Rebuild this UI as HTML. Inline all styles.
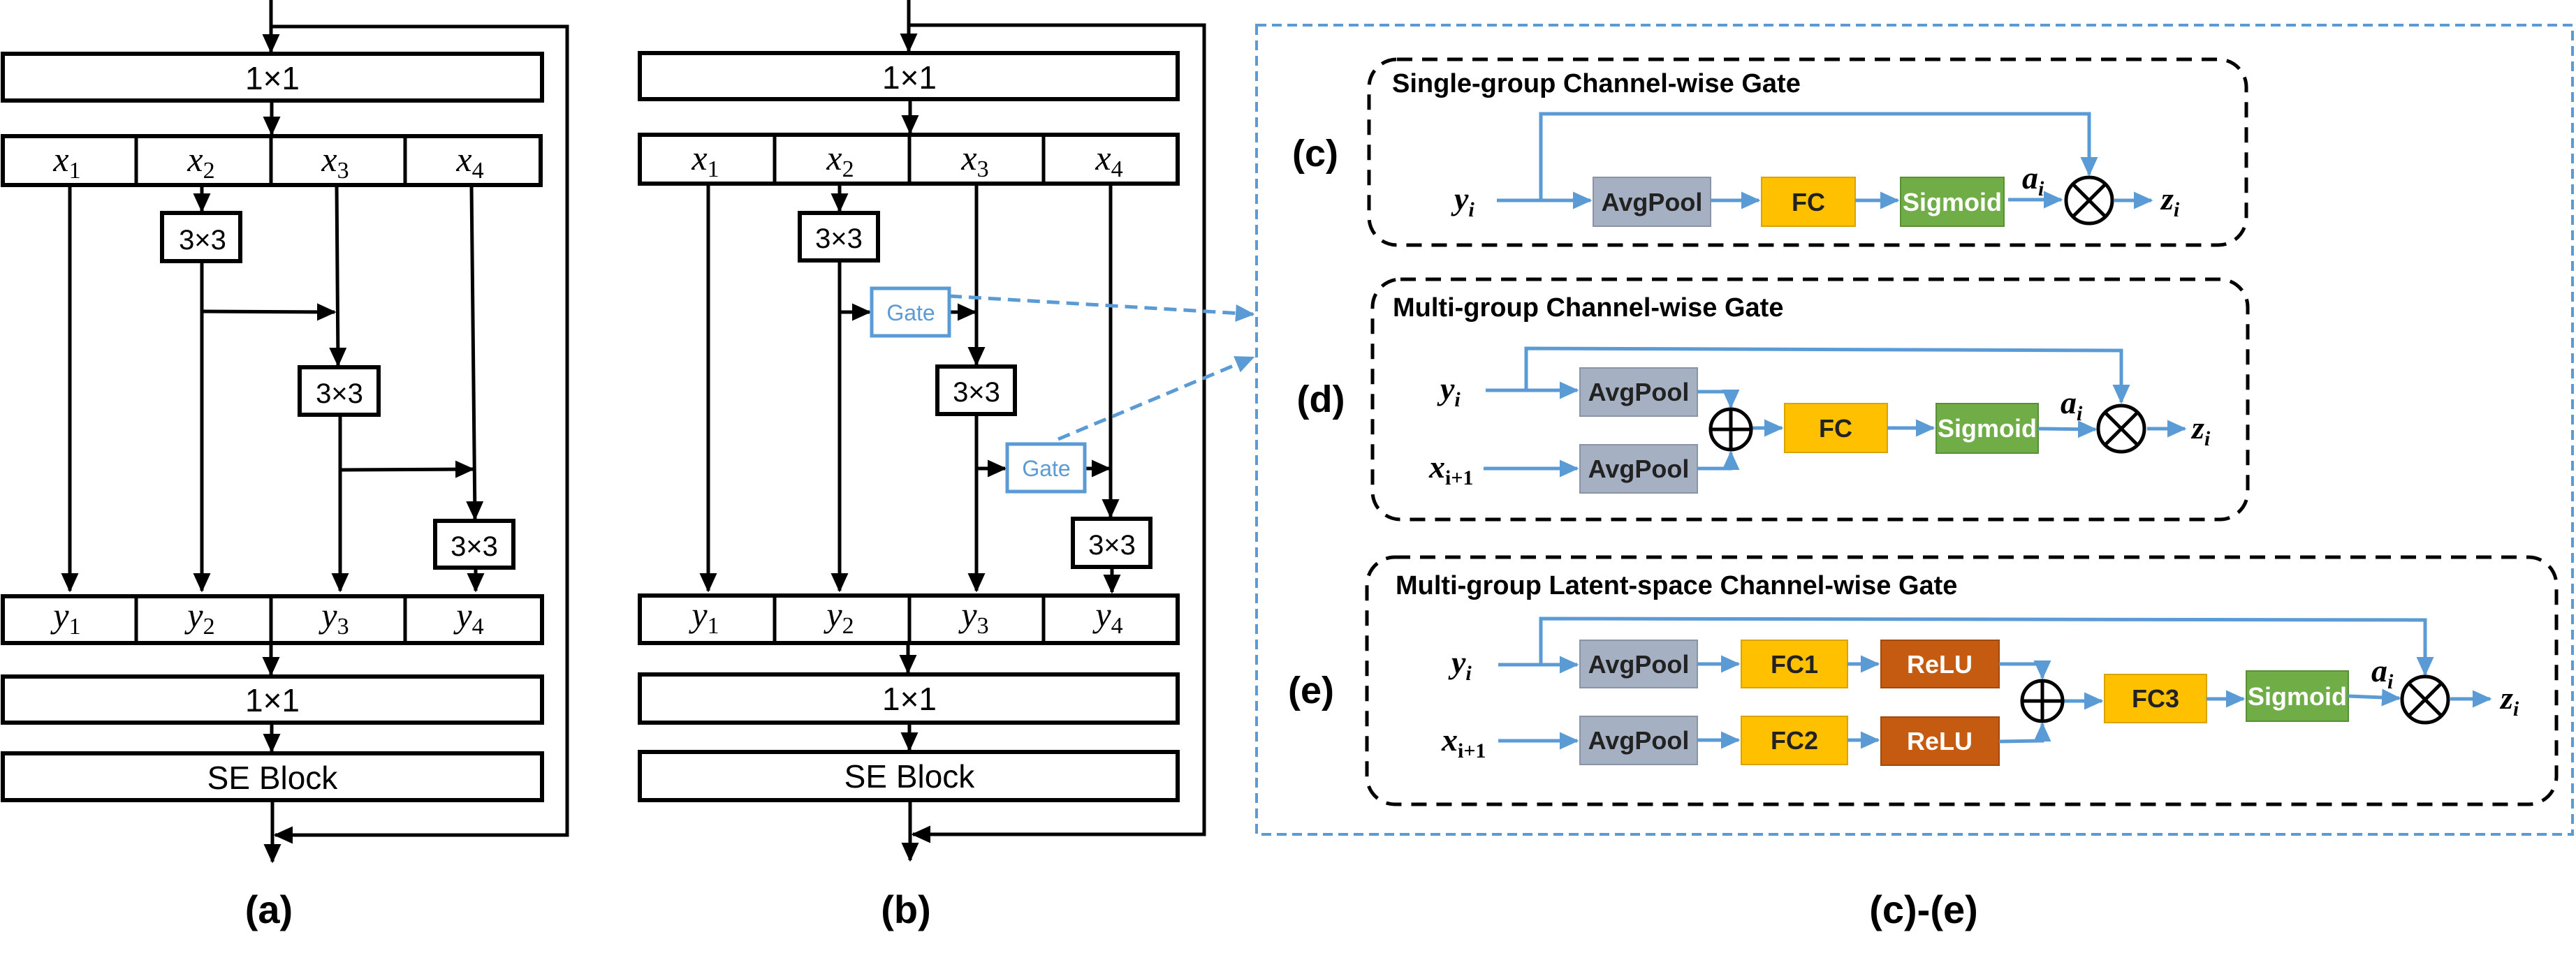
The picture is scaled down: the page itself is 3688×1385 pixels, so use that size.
<!DOCTYPE html>
<html><head><meta charset="utf-8"><style>
html,body{margin:0;padding:0;background:#fff}
svg{display:block}
.t{font-family:"Liberation Sans Narrow","Liberation Sans",sans-serif}
.m{font-family:"Liberation Serif",serif;font-style:italic}
</style></head><body>
<svg width="3688" height="1385" viewBox="0 0 3688 1385" xmlns="http://www.w3.org/2000/svg">
<defs>
<marker id="ab" markerWidth="6" markerHeight="6" refX="5" refY="3" orient="auto" markerUnits="strokeWidth"><path d="M0,0.5 L5.5,3 L0,5.5 z" fill="#000"/></marker>
<marker id="au" markerWidth="6" markerHeight="6" refX="5" refY="3" orient="auto" markerUnits="strokeWidth"><path d="M0,0.5 L5.5,3 L0,5.5 z" fill="#5b9bd5"/></marker>
</defs>

<!-- ===== Panel (a) ===== -->
<g stroke="#000" stroke-width="5" fill="none">
<line x1="388" y1="0" x2="388" y2="74" marker-end="url(#ab)"/>
<polyline points="388,38 812,38 812,1196 394,1196" marker-end="url(#ab)"/>
<rect x="4" y="77" width="772" height="67" stroke-width="6"/>
<line x1="389" y1="144" x2="389" y2="192" marker-end="url(#ab)"/>
<rect x="4" y="195" width="770" height="70" stroke-width="6"/>
<line x1="195" y1="195" x2="195" y2="265"/><line x1="388" y1="195" x2="388" y2="265"/><line x1="580" y1="195" x2="580" y2="265"/>
<rect x="232" y="305" width="112" height="69" stroke-width="6"/>
<rect x="429" y="526" width="113" height="68" stroke-width="6"/>
<rect x="623" y="746" width="112" height="67" stroke-width="6"/>
<line x1="100" y1="265" x2="100" y2="846" marker-end="url(#ab)"/>
<line x1="289" y1="265" x2="289" y2="302" marker-end="url(#ab)"/>
<line x1="289" y1="374" x2="289" y2="846" marker-end="url(#ab)"/>
<line x1="289" y1="446" x2="479" y2="447" marker-end="url(#ab)"/>
<line x1="482" y1="265" x2="484" y2="523" marker-end="url(#ab)"/>
<line x1="487" y1="594" x2="487" y2="846" marker-end="url(#ab)"/>
<line x1="487" y1="673" x2="677" y2="672" marker-end="url(#ab)"/>
<line x1="675" y1="265" x2="680" y2="743" marker-end="url(#ab)"/>
<line x1="681" y1="813" x2="681" y2="846" marker-end="url(#ab)"/>
<rect x="4" y="854" width="772" height="67" stroke-width="6"/>
<line x1="195" y1="854" x2="195" y2="921"/><line x1="388" y1="854" x2="388" y2="921"/><line x1="580" y1="854" x2="580" y2="921"/>
<line x1="388" y1="921" x2="388" y2="966" marker-end="url(#ab)"/>
<rect x="4" y="969" width="772" height="66" stroke-width="6"/>
<line x1="389" y1="1035" x2="389" y2="1076" marker-end="url(#ab)"/>
<rect x="4" y="1079" width="772" height="67" stroke-width="6"/>
<line x1="390" y1="1146" x2="390" y2="1234" marker-end="url(#ab)"/>
</g>
<g class="t" font-size="46" text-anchor="middle" fill="#000">
<text x="390" y="128">1×1</text>
<text x="290" y="357" font-size="40">3×3</text>
<text x="486" y="577" font-size="40">3×3</text>
<text x="679" y="796" font-size="40">3×3</text>
<text x="390" y="1019">1×1</text>
<text x="390" y="1130">SE Block</text>
<text x="385" y="1322" font-size="56" font-weight="bold">(a)</text>
</g>
<g class="m" font-size="50" fill="#000" text-anchor="middle">
<text x="96" y="245">x<tspan font-size="34" font-style="normal" dy="10">1</tspan></text>
<text x="288" y="245">x<tspan font-size="34" font-style="normal" dy="10">2</tspan></text>
<text x="480" y="245">x<tspan font-size="34" font-style="normal" dy="10">3</tspan></text>
<text x="673" y="245">x<tspan font-size="34" font-style="normal" dy="10">4</tspan></text>
<text x="96" y="898">y<tspan font-size="34" font-style="normal" dy="10">1</tspan></text>
<text x="288" y="898">y<tspan font-size="34" font-style="normal" dy="10">2</tspan></text>
<text x="480" y="898">y<tspan font-size="34" font-style="normal" dy="10">3</tspan></text>
<text x="673" y="898">y<tspan font-size="34" font-style="normal" dy="10">4</tspan></text>
</g>

<!-- ===== Panel (b) ===== -->
<g stroke="#000" stroke-width="5" fill="none">
<line x1="1301" y1="0" x2="1301" y2="73" marker-end="url(#ab)"/>
<polyline points="1301,36 1724,36 1724,1195 1307,1195" marker-end="url(#ab)"/>
<rect x="916" y="76" width="770" height="66" stroke-width="6"/>
<line x1="1303" y1="142" x2="1303" y2="190" marker-end="url(#ab)"/>
<rect x="916" y="193" width="770" height="70" stroke-width="6"/>
<line x1="1109" y1="193" x2="1109" y2="263"/><line x1="1302" y1="193" x2="1302" y2="263"/><line x1="1494" y1="193" x2="1494" y2="263"/>
<rect x="1145" y="305" width="112" height="68" stroke-width="6"/>
<rect x="1342" y="525" width="111" height="68" stroke-width="6"/>
<rect x="1536" y="743" width="111" height="69" stroke-width="6"/>
<line x1="1014" y1="263" x2="1014" y2="846" marker-end="url(#ab)"/>
<line x1="1202" y1="263" x2="1202" y2="302" marker-end="url(#ab)"/>
<line x1="1202" y1="373" x2="1202" y2="846" marker-end="url(#ab)"/>
<line x1="1202" y1="447" x2="1245" y2="447" marker-end="url(#ab)"/>
<line x1="1359" y1="447" x2="1396" y2="447" marker-end="url(#ab)"/>
<line x1="1398" y1="263" x2="1398" y2="522" marker-end="url(#ab)"/>
<line x1="1398" y1="593" x2="1398" y2="846" marker-end="url(#ab)"/>
<line x1="1398" y1="671" x2="1439" y2="671" marker-end="url(#ab)"/>
<line x1="1553" y1="671" x2="1588" y2="671" marker-end="url(#ab)"/>
<line x1="1590" y1="263" x2="1590" y2="740" marker-end="url(#ab)"/>
<line x1="1592" y1="812" x2="1592" y2="848" marker-end="url(#ab)"/>
<rect x="916" y="853" width="770" height="68" stroke-width="6"/>
<line x1="1109" y1="853" x2="1109" y2="921"/><line x1="1302" y1="853" x2="1302" y2="921"/><line x1="1494" y1="853" x2="1494" y2="921"/>
<line x1="1300" y1="921" x2="1300" y2="963" marker-end="url(#ab)"/>
<rect x="916" y="966" width="770" height="69" stroke-width="6"/>
<line x1="1302" y1="1035" x2="1302" y2="1074" marker-end="url(#ab)"/>
<rect x="916" y="1077" width="770" height="69" stroke-width="6"/>
<line x1="1303" y1="1146" x2="1303" y2="1232" marker-end="url(#ab)"/>
</g>
<g stroke="#5b9bd5" fill="#fff" stroke-width="5">
<rect x="1248" y="413" width="111" height="68"/>
<rect x="1442" y="636" width="111" height="68"/>
</g>
<g stroke="#5b9bd5" stroke-width="5" stroke-dasharray="18,10" fill="none">
<line x1="1359" y1="424" x2="1794" y2="450" marker-end="url(#au)"/>
<line x1="1515" y1="629" x2="1794" y2="512" marker-end="url(#au)"/>
</g>
<g class="t" font-size="46" text-anchor="middle" fill="#000">
<text x="1302" y="127">1×1</text>
<text x="1201" y="355" font-size="40">3×3</text>
<text x="1398" y="575" font-size="40">3×3</text>
<text x="1592" y="794" font-size="40">3×3</text>
<text x="1302" y="1017">1×1</text>
<text x="1302" y="1128">SE Block</text>
<text x="1297" y="1322" font-size="56" font-weight="bold">(b)</text>
<text x="1304" y="459" font-size="32" fill="#5b9bd5">Gate</text>
<text x="1498" y="682" font-size="32" fill="#5b9bd5">Gate</text>
</g>
<g class="m" font-size="50" fill="#000" text-anchor="middle">
<text x="1010" y="243">x<tspan font-size="34" font-style="normal" dy="10">1</tspan></text>
<text x="1203" y="243">x<tspan font-size="34" font-style="normal" dy="10">2</tspan></text>
<text x="1396" y="243">x<tspan font-size="34" font-style="normal" dy="10">3</tspan></text>
<text x="1588" y="243">x<tspan font-size="34" font-style="normal" dy="10">4</tspan></text>
<text x="1010" y="897">y<tspan font-size="34" font-style="normal" dy="10">1</tspan></text>
<text x="1203" y="897">y<tspan font-size="34" font-style="normal" dy="10">2</tspan></text>
<text x="1396" y="897">y<tspan font-size="34" font-style="normal" dy="10">3</tspan></text>
<text x="1588" y="897">y<tspan font-size="34" font-style="normal" dy="10">4</tspan></text>
</g>

<!-- ===== Right panel ===== -->
<rect x="1799" y="36" width="1884" height="1159" fill="none" stroke="#5b9bd5" stroke-width="4" stroke-dasharray="14,8"/>
<g fill="none" stroke="#000" stroke-width="5" stroke-dasharray="22,14">
<rect x="1960" y="85" width="1256" height="266" rx="40"/>
<rect x="1965" y="400" width="1253" height="344" rx="40"/>
<rect x="1957" y="798" width="1703" height="354" rx="40"/>
</g>
<g class="t" font-weight="bold" font-size="38" fill="#000">
<text x="1993" y="132">Single-group Channel-wise Gate</text>
<text x="1994" y="453">Multi-group Channel-wise Gate</text>
<text x="1998" y="851">Multi-group Latent-space Channel-wise Gate</text>
<text x="1883" y="238" font-size="54" text-anchor="middle">(c)</text>
<text x="1891" y="590" font-size="54" text-anchor="middle">(d)</text>
<text x="1877" y="1007" font-size="54" text-anchor="middle">(e)</text>
<text x="2754" y="1322" font-size="56" text-anchor="middle">(c)-(e)</text>
</g>

<!-- boxes -->
<g stroke-width="2">
<rect x="2281" y="254" width="168" height="70" fill="#a6b0c3" stroke="#8a94a6"/>
<rect x="2522" y="254" width="134" height="70" fill="#ffc000" stroke="#d9a300"/>
<rect x="2721" y="254" width="148" height="70" fill="#70ad47" stroke="#5a8f38"/>
<rect x="2262" y="527" width="168" height="69" fill="#a6b0c3" stroke="#8a94a6"/>
<rect x="2262" y="637" width="168" height="69" fill="#a6b0c3" stroke="#8a94a6"/>
<rect x="2555" y="578" width="147" height="70" fill="#ffc000" stroke="#d9a300"/>
<rect x="2772" y="578" width="146" height="71" fill="#70ad47" stroke="#5a8f38"/>
<rect x="2262" y="917" width="168" height="68" fill="#a6b0c3" stroke="#8a94a6"/>
<rect x="2262" y="1026" width="168" height="69" fill="#a6b0c3" stroke="#8a94a6"/>
<rect x="2493" y="917" width="152" height="68" fill="#ffc000" stroke="#d9a300"/>
<rect x="2493" y="1026" width="152" height="69" fill="#ffc000" stroke="#d9a300"/>
<rect x="2693" y="917" width="169" height="68" fill="#c55a11" stroke="#a04a0e"/>
<rect x="2693" y="1027" width="169" height="69" fill="#c55a11" stroke="#a04a0e"/>
<rect x="3013" y="966" width="146" height="69" fill="#ffc000" stroke="#d9a300"/>
<rect x="3216" y="961" width="146" height="72" fill="#70ad47" stroke="#5a8f38"/>
</g>
<g class="t" font-weight="bold" font-size="36" text-anchor="middle">
<text x="2365" y="302" fill="#222">AvgPool</text>
<text x="2589" y="302" fill="#222">FC</text>
<text x="2795" y="302" fill="#fff">Sigmoid</text>
<text x="2346" y="574" fill="#222">AvgPool</text>
<text x="2346" y="684" fill="#222">AvgPool</text>
<text x="2628" y="626" fill="#222">FC</text>
<text x="2845" y="626" fill="#fff">Sigmoid</text>
<text x="2346" y="964" fill="#222">AvgPool</text>
<text x="2346" y="1073" fill="#222">AvgPool</text>
<text x="2569" y="964" fill="#222">FC1</text>
<text x="2569" y="1073" fill="#222">FC2</text>
<text x="2777" y="964" fill="#fff">ReLU</text>
<text x="2777" y="1074" fill="#fff">ReLU</text>
<text x="3086" y="1013" fill="#222">FC3</text>
<text x="3289" y="1010" fill="#fff">Sigmoid</text>
</g>

<!-- blue connectors -->
<g stroke="#5b9bd5" stroke-width="5" fill="none">
<line x1="2143" y1="287" x2="2277" y2="287" marker-end="url(#au)"/>
<polyline points="2206,287 2206,163 2991,163 2991,250" marker-end="url(#au)"/>
<line x1="2449" y1="287" x2="2518" y2="287" marker-end="url(#au)"/>
<line x1="2656" y1="287" x2="2717" y2="287" marker-end="url(#au)"/>
<line x1="2875" y1="286" x2="2951" y2="286" marker-end="url(#au)"/>
<line x1="3027" y1="287" x2="3080" y2="287" marker-end="url(#au)"/>

<line x1="2127" y1="559" x2="2258" y2="559" marker-end="url(#au)"/>
<polyline points="2185,559 2185,499 3037,502 3037,576" marker-end="url(#au)"/>
<line x1="2124" y1="671" x2="2258" y2="671" marker-end="url(#au)"/>
<polyline points="2430,561 2478,561 2478,583" marker-end="url(#au)"/>
<polyline points="2430,671 2478,671 2478,648" marker-end="url(#au)"/>
<line x1="2507" y1="613" x2="2551" y2="613" marker-end="url(#au)"/>
<line x1="2702" y1="613" x2="2768" y2="613" marker-end="url(#au)"/>
<line x1="2918" y1="614" x2="3000" y2="615" marker-end="url(#au)"/>
<line x1="3074" y1="614" x2="3128" y2="614" marker-end="url(#au)"/>

<line x1="2145" y1="952" x2="2258" y2="952" marker-end="url(#au)"/>
<polyline points="2206,952 2206,886 3472,888 3472,966" marker-end="url(#au)"/>
<line x1="2145" y1="1061" x2="2258" y2="1061" marker-end="url(#au)"/>
<line x1="2430" y1="951" x2="2489" y2="951" marker-end="url(#au)"/>
<line x1="2430" y1="1060" x2="2489" y2="1060" marker-end="url(#au)"/>
<line x1="2645" y1="951" x2="2689" y2="951" marker-end="url(#au)"/>
<line x1="2645" y1="1060" x2="2689" y2="1060" marker-end="url(#au)"/>
<polyline points="2862,951 2924,951 2924,971" marker-end="url(#au)"/>
<polyline points="2862,1062 2924,1061 2924,1037" marker-end="url(#au)"/>
<line x1="2953" y1="1004" x2="3009" y2="1004" marker-end="url(#au)"/>
<line x1="3159" y1="1001" x2="3212" y2="1001" marker-end="url(#au)"/>
<line x1="3362" y1="997" x2="3435" y2="1000" marker-end="url(#au)"/>
<line x1="3508" y1="1001" x2="3565" y2="1001" marker-end="url(#au)"/>
</g>

<!-- operators -->
<g stroke="#000" stroke-width="5" fill="#fff">
<circle cx="2991" cy="287" r="33"/>
<line x1="2968" y1="264" x2="3014" y2="310"/><line x1="3014" y1="264" x2="2968" y2="310"/>
<circle cx="2478" cy="615" r="29"/>
<line x1="2449" y1="615" x2="2507" y2="615"/><line x1="2478" y1="586" x2="2478" y2="644"/>
<circle cx="3037" cy="614" r="33"/>
<line x1="3014" y1="591" x2="3060" y2="637"/><line x1="3060" y1="591" x2="3014" y2="637"/>
<circle cx="2924" cy="1004" r="29"/>
<line x1="2895" y1="1004" x2="2953" y2="1004"/><line x1="2924" y1="975" x2="2924" y2="1033"/>
<circle cx="3472" cy="1002" r="33"/>
<line x1="3449" y1="979" x2="3495" y2="1025"/><line x1="3495" y1="979" x2="3449" y2="1025"/>
</g>

<!-- math labels -->
<g class="m" font-size="46" fill="#000" font-weight="bold">
<text x="2082" y="300">y<tspan font-size="30" dy="10">i</tspan></text>
<text x="2895" y="270">a<tspan font-size="30" dy="10">i</tspan></text>
<text x="3094" y="300">z<tspan font-size="30" dy="10">i</tspan></text>
<text x="2062" y="572">y<tspan font-size="30" dy="10">i</tspan></text>
<text x="2046" y="684">x<tspan font-size="30" dy="10" font-style="normal">i+1</tspan></text>
<text x="2950" y="592">a<tspan font-size="30" dy="10">i</tspan></text>
<text x="3138" y="628">z<tspan font-size="30" dy="10">i</tspan></text>
<text x="2078" y="964">y<tspan font-size="30" dy="10">i</tspan></text>
<text x="2064" y="1075">x<tspan font-size="30" dy="10" font-style="normal">i+1</tspan></text>
<text x="3395" y="976">a<tspan font-size="30" dy="10">i</tspan></text>
<text x="3580" y="1015">z<tspan font-size="30" dy="10">i</tspan></text>
</g>
</svg>
</body></html>
